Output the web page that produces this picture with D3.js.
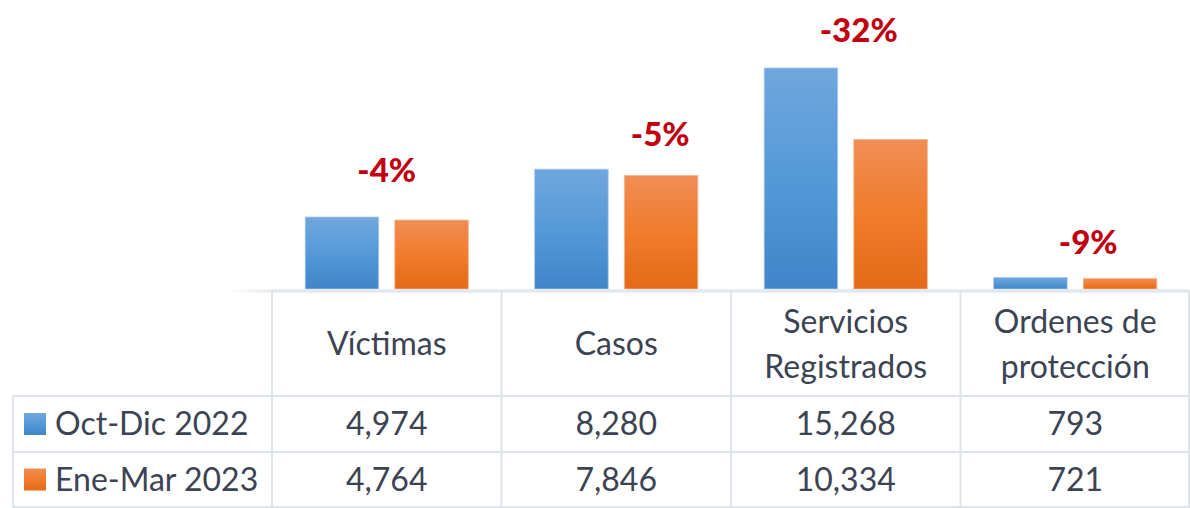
<!DOCTYPE html>
<html>
<head>
<meta charset="utf-8">
<script src="https://cdn.jsdelivr.net/npm/d3@7"></script>
<style>
  html, body { margin: 0; padding: 0; background: #fff; }
  svg { display: block; font-family: Lato, 'Open Sans', sans-serif; }
</style>
</head>
<body>
<svg id="chart" width="1190" height="508"></svg>
<script>
// data
const categories = ['Víctimas', 'Casos', 'Servicios Registrados', 'Ordenes de protección']
const headerLines = [['Víctimas'], ['Casos'], ['Servicios', 'Registrados'], ['Ordenes de', 'protección']]
const seriesNames = ['Oct-Dic 2022', 'Ene-Mar 2023']
const octDic2022 = [4974, 8280, 15268, 793]
const eneMar2023 = [4764, 7846, 10334, 721]
const changeLabels = ['-4%', '-5%', '-32%', '-9%']

// hand placed change labels in the original (dx from group centre, gap above tallest bar)
const labelNudge = [[0, 35], [44, 23], [13, 26], [13, 24]]

const series = [octDic2022, eneMar2023]
const svg = d3.select('#chart')
const width = 1190
const textColor = '#3c4454'
const gridColor = '#dfe4eb'

const baseY = 289
const x = d3.scaleBand().domain(categories).range([272, width])
const xSub = d3.scaleBand().domain(seriesNames).range([0, x.bandwidth()])
  .paddingInner(0.18).paddingOuter(0.37)
const y = d3.scaleLinear().domain([0, d3.max(octDic2022)]).range([baseY, 68])

// gradients
const defs = svg.append('defs')
const grads = [
  { id: 'gBlue', stops: ['#70a7dd', '#5599d8', '#3f85c8'] },
  { id: 'gOrange', stops: ['#f18d55', '#f07c2c', '#e36a18'] }
]
grads.forEach(g => {
  const lg = defs.append('linearGradient').attr('id', g.id)
    .attr('x1', 0).attr('y1', 0).attr('x2', 0).attr('y2', 1)
  g.stops.forEach((c, i) => lg.append('stop').attr('offset', i / (g.stops.length - 1)).attr('stop-color', c))
})
const fadeLine = defs.append('linearGradient').attr('id', 'gLine')
  .attr('gradientUnits', 'userSpaceOnUse').attr('x1', 230).attr('x2', 272)
fadeLine.append('stop').attr('offset', 0).attr('stop-color', '#e4e8ee').attr('stop-opacity', 0)
fadeLine.append('stop').attr('offset', 1).attr('stop-color', '#e4e8ee').attr('stop-opacity', 1)

const legendFill = ['url(#gBlue)', 'url(#gOrange)']
const strokeFill = ['#a9c9ec', '#f6b58c']

// bars
const gBars = svg.append('g')
categories.forEach((cat, i) => {
  seriesNames.forEach((s, j) => {
    const v = series[j][i]
    gBars.append('rect')
      .attr('x', x(cat) + xSub(s))
      .attr('y', y(v))
      .attr('width', xSub.bandwidth())
      .attr('height', baseY - y(v))
      .attr('fill', legendFill[j])
      .attr('stroke', strokeFill[j])
      .attr('stroke-width', 0.8)
  })
})

// change labels
svg.append('g').selectAll('text')
  .data(categories)
  .join('text')
  .attr('x', (d, i) => x(d) + x.bandwidth() / 2 + labelNudge[i][0])
  .attr('y', (d, i) => y(Math.max(octDic2022[i], eneMar2023[i])) - labelNudge[i][1])
  .attr('text-anchor', 'middle')
  .attr('font-weight', 900)
  .attr('font-size', 33)
  .attr('fill', '#c00010')
  .text((d, i) => changeLabels[i])

// data table
const tableLeft = 13
const rowTop = 291
const rowHead = 396
const row1 = 452
const row2 = 507
const grid = svg.append('g').attr('stroke', gridColor).attr('stroke-width', 2)
grid.append('line').attr('x1', 230).attr('x2', width).attr('y1', rowTop).attr('y2', rowTop)
  .attr('stroke-width', 3).attr('stroke', 'url(#gLine)')
grid.append('line').attr('x1', 272).attr('x2', width).attr('y1', rowTop).attr('y2', rowTop)
  .attr('stroke-width', 3).attr('stroke', '#e4e8ee')
;[rowHead, row1, row2].forEach(yy => {
  grid.append('line').attr('x1', tableLeft).attr('x2', width).attr('y1', yy).attr('y2', yy)
})
grid.append('line').attr('x1', tableLeft).attr('x2', tableLeft).attr('y1', rowHead).attr('y2', row2)
categories.forEach(cat => {
  grid.append('line').attr('x1', x(cat)).attr('x2', x(cat)).attr('y1', rowTop).attr('y2', row2)
})
grid.append('line').attr('x1', width - 1).attr('x2', width - 1).attr('y1', rowTop).attr('y2', row2)

const fmt = d3.format(',')
const gText = svg.append('g').attr('fill', textColor).attr('font-size', 32)

// header cells
categories.forEach((cat, i) => {
  const lines = headerLines[i]
  const mid = (rowTop + rowHead) / 2 + 11.5
  lines.forEach((ln, k) => {
    gText.append('text')
      .attr('x', x(cat) + x.bandwidth() / 2)
      .attr('y', mid + (k - (lines.length - 1) / 2) * 45)
      .attr('text-anchor', 'middle')
      .text(ln)
  })
})

// value rows
const rowMids = [(rowHead + row1) / 2, (row1 + row2) / 2]
series.forEach((vals, j) => {
  svg.append('rect')
    .attr('x', 24).attr('y', rowMids[j] - 11)
    .attr('width', 22).attr('height', 22)
    .attr('fill', legendFill[j])
  gText.append('text')
    .attr('x', 55).attr('y', rowMids[j] + 11)
    .text(seriesNames[j])
  categories.forEach((cat, i) => {
    gText.append('text')
      .attr('x', x(cat) + x.bandwidth() / 2)
      .attr('y', rowMids[j] + 11)
      .attr('text-anchor', 'middle')
      .text(fmt(vals[i]))
  })
})
</script>
</body>
</html>
